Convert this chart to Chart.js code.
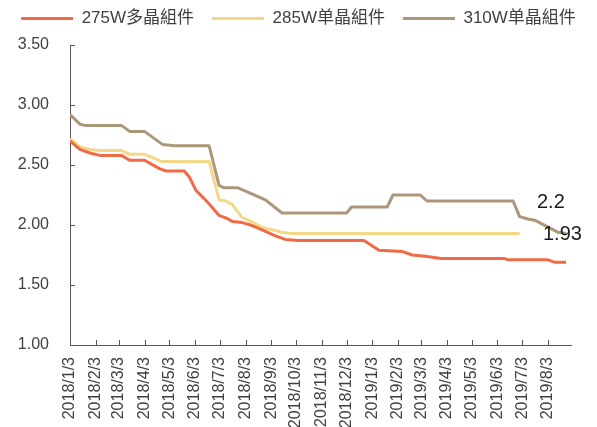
<!DOCTYPE html>
<html lang="zh">
<head>
  <meta charset="UTF-8">
  <title>組件價格走勢</title>
  <script src="https://cdn.jsdelivr.net/npm/chart.js"></script>
  <style>
    html, body { margin: 0; padding: 0; background: #fff; }
    #wrap { width: 597px; height: 427px; position: relative; }
  </style>
</head>
<body>
  <div id="wrap"><canvas id="priceChart"></canvas></div>

  <script>
    // 月度刻度標籤
    const monthLabels = ['2018/1/3', '2018/2/3', '2018/3/3', '2018/4/3', '2018/5/3', '2018/6/3', '2018/7/3',
      '2018/8/3', '2018/9/3', '2018/10/3', '2018/11/3', '2018/12/3', '2019/1/3', '2019/2/3', '2019/3/3',
      '2019/4/3', '2019/5/3', '2019/6/3', '2019/7/3', '2019/8/3'];

    // 275W多晶組件
    const dates275 = ['2018/1/3', '2018/1/15', '2018/1/27', '2018/2/8', '2018/3/6', '2018/3/16', '2018/4/3',
      '2018/4/21', '2018/4/29', '2018/5/21', '2018/5/27', '2018/6/4', '2018/6/14', '2018/6/22', '2018/7/2',
      '2018/7/10', '2018/7/18', '2018/7/30', '2018/8/9', '2018/8/23', '2018/9/8', '2018/9/20', '2018/10/6',
      '2018/12/24', '2019/1/11', '2019/2/8', '2019/2/20', '2019/3/8', '2019/3/27', '2019/6/12', '2019/6/16',
      '2019/8/3', '2019/8/11', '2019/8/25'];
    const vals275 = [2.70, 2.63, 2.60, 2.58, 2.58, 2.54, 2.54, 2.47, 2.45, 2.45, 2.40, 2.29, 2.22, 2.16, 2.08,
      2.06, 2.03, 2.02, 2.00, 1.96, 1.91, 1.88, 1.87, 1.87, 1.79, 1.78, 1.75, 1.74, 1.72, 1.72, 1.71,
      1.71, 1.69, 1.69];

    // 285W单晶組件
    const dates285 = ['2018/1/3', '2018/1/15', '2018/1/27', '2018/2/8', '2018/3/6', '2018/3/16', '2018/4/3',
      '2018/4/23', '2018/6/20', '2018/7/2', '2018/7/10', '2018/7/18', '2018/7/30', '2018/8/7', '2018/8/23',
      '2018/9/16', '2018/9/27', '2019/6/30'];
    const vals285 = [2.72, 2.65, 2.63, 2.62, 2.62, 2.59, 2.59, 2.53, 2.53, 2.21, 2.20, 2.17, 2.06, 2.04, 1.98,
      1.94, 1.93, 1.93];

    // 310W单晶組件
    const dates310 = ['2018/1/3', '2018/1/15', '2018/1/21', '2018/3/6', '2018/3/16', '2018/4/3', '2018/4/25',
      '2018/5/9', '2018/6/20', '2018/7/2', '2018/7/8', '2018/7/25', '2018/8/27', '2018/9/16', '2018/12/3',
      '2018/12/9', '2019/1/21', '2019/1/28', '2019/3/2', '2019/3/10', '2019/6/22', '2019/6/30', '2019/7/10',
      '2019/7/18', '2019/8/15', '2019/8/25'];
    const vals310 = [2.92, 2.84, 2.83, 2.83, 2.78, 2.78, 2.67, 2.66, 2.66, 2.33, 2.31, 2.31, 2.21, 2.10, 2.10,
      2.15, 2.15, 2.25, 2.25, 2.20, 2.20, 2.07, 2.05, 2.04, 1.94, 1.93];

    // 末端標註
    const noteTexts = ['2.2', '1.93'];
    const noteValues = [2.2, 1.93];

    const seriesNames = ['275W多晶組件', '285W单晶組件', '310W单晶組件'];
    const seriesColors = ['#EE6B45', '#F3D88A', '#AD977A'];

    // 日期字串 -> 距 2018/1/3 的天數
    const BASE = Date.UTC(2018, 0, 3);
    function dayOf(s) {
      const [y, m, d] = s.split('/').map(Number);
      return Math.round((Date.UTC(y, m - 1, d) - BASE) / 86400000);
    }
    function toPoints(dates, vals) {
      return dates.map((d, i) => ({ x: dayOf(d), y: vals[i] }));
    }

    const TEXT = '#404040';
    const AXIS = '#595959';
    Chart.defaults.font.family = "'Liberation Sans', 'Noto Sans CJK SC', Arial, sans-serif";
    Chart.defaults.color = TEXT;

    // 刻度線朝內 + 末端數字
    const extrasPlugin = {
      id: 'extras',
      afterDraw(chart) {
        const { ctx, chartArea, scales } = chart;
        const xs = scales.x, ys = scales.y;
        ctx.save();
        ctx.strokeStyle = AXIS;
        ctx.lineWidth = 1;
        ctx.beginPath();
        ys.ticks.forEach(t => {
          const y = Math.round(ys.getPixelForValue(t.value)) + 0.5;
          ctx.moveTo(chartArea.left, y);
          ctx.lineTo(chartArea.left + 5, y);
        });
        xs.ticks.forEach(t => {
          const x = Math.round(xs.getPixelForValue(t.value)) + 0.5;
          ctx.moveTo(x, chartArea.bottom);
          ctx.lineTo(x, chartArea.bottom - 5);
        });
        ctx.stroke();

        ctx.fillStyle = '#1a1a1a';
        ctx.font = "20px 'Liberation Sans', Arial, sans-serif";
        ctx.textBaseline = 'middle';
        ctx.textAlign = 'left';
        const offsets = [34, 28];
        noteTexts.forEach((txt, i) => {
          ctx.fillText(txt, chartArea.right - offsets[i], ys.getPixelForValue(noteValues[i]) + 1);
        });
        ctx.restore();
      }
    };

    const allDates = [dates275, dates285, dates310];
    const allVals = [vals275, vals285, vals310];

    new Chart(document.getElementById('priceChart'), {
      type: 'line',
      data: {
        datasets: seriesNames.map((name, i) => ({
          label: name,
          data: toPoints(allDates[i], allVals[i]),
          borderColor: seriesColors[i],
          backgroundColor: seriesColors[i],
          borderWidth: 3,
          borderJoinStyle: 'round',
          pointRadius: 0,
          tension: 0
        }))
      },
      options: {
        responsive: true,
        maintainAspectRatio: false,
        animation: false,
        layout: { padding: { top: -8, right: 0, left: 0, bottom: 0 } },
        plugins: {
          legend: {
            position: 'top',
            labels: {
              boxWidth: 52,
              boxHeight: 3,
              padding: 18,
              font: { size: 17 },
              color: TEXT,
              generateLabels(chart) {
                return Chart.defaults.plugins.legend.labels.generateLabels(chart)
                  .map(l => Object.assign(l, { lineWidth: 0 }));
              }
            }
          },
          // 圖例與繪圖區之間的空隙
          subtitle: {
            display: true,
            text: '',
            weight: 500,
            padding: 0,
            font: { size: 8, lineHeight: 1 }
          },
          tooltip: { enabled: false }
        },
        scales: {
          x: {
            type: 'linear',
            min: 0,
            max: dayOf('2019/8/31'),
            afterBuildTicks(scale) {
              scale.ticks = monthLabels.map(l => ({ value: dayOf(l) }));
            },
            afterFit(scale) { scale.height = 82; },
            ticks: {
              autoSkip: false,
              minRotation: 90,
              maxRotation: 90,
              padding: 12,
              font: { size: 16 },
              color: TEXT,
              callback: (v) => {
                const idx = monthLabels.findIndex(l => dayOf(l) === v);
                return idx >= 0 ? monthLabels[idx] : '';
              }
            },
            grid: { display: true, drawOnChartArea: false, drawTicks: false },
            border: { display: true, color: AXIS, width: 1 }
          },
          y: {
            min: 1,
            max: 3.5,
            afterFit(scale) { scale.width = 70; },
            ticks: {
              stepSize: 0.5,
              padding: 21,
              font: { size: 16 },
              color: TEXT,
              callback: (v) => v.toFixed(2)
            },
            grid: { display: true, drawOnChartArea: false, drawTicks: false },
            border: { display: true, color: AXIS, width: 1 }
          },
          // 右側留白（空軸）
          yRight: {
            position: 'right',
            min: 1,
            max: 3.5,
            afterFit(scale) { scale.width = 26; },
            ticks: { display: false },
            grid: { display: false, drawTicks: false },
            border: { display: false }
          }
        }
      },
      plugins: [extrasPlugin]
    });
  </script>
</body>
</html>
